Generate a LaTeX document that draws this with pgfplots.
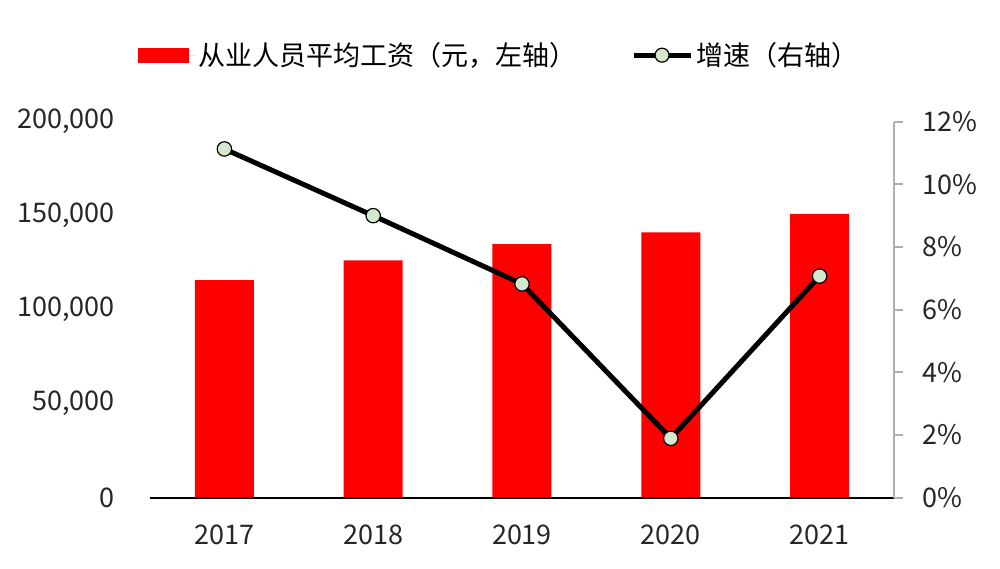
\documentclass[border=0pt]{standalone}
\usepackage{pgfplots}
\pgfplotsset{compat=1.18}
\usepackage{fontspec}
\setmainfont{Noto Sans CJK SC}
\definecolor{mk}{RGB}{212,232,206}
\definecolor{tk}{RGB}{38,38,38}
\definecolor{gax}{RGB}{175,175,175}
\begin{document}
\begin{tikzpicture}
\path[use as bounding box] (-75pt,-35.25pt) rectangle (425pt,248.75pt);
\begin{axis}[
  at={(0,0)}, anchor=south west, scale only axis,
  width=372pt, height=187.9pt,
  xmin=-0.5, xmax=4.5, ymin=0, ymax=200000,
  xtick={0,1,2,3,4}, xticklabels={2017,2018,2019,2020,2021},
  ytick={0,50000,100000,150000,200000},
  yticklabels={0,{50,000},{100,000},{150,000},{200,000}},
  scaled y ticks=false,
  axis x line*=bottom, axis y line*=left,
  x axis line style={black, line width=1pt, -},
  y axis line style={draw=none},
  xtick style={draw=none}, ytick style={draw=none},
  tick label style={font=\fontsize{13.5}{16}\selectfont, text=tk},
  yticklabel style={xshift=-14pt},
  xticklabel style={yshift=-10pt},
  legend style={at={(0.47,1.177)}, anchor=center, draw=none, fill=none,
    font=\fontsize{13.5}{16}\selectfont, text=black,
    legend columns=2, nodes={inner xsep=1.5pt},
    /tikz/every even column/.append style={column sep=26pt}},
]
\addplot[ybar, bar width=29.5pt, fill=red, draw=none,
  legend image code/.code={\fill[red] (0pt,-3.8pt) rectangle (25.5pt,3.8pt); \path (0pt,0pt) -- (28.5pt,0pt);}]
  coordinates {(0,115700) (1,126200) (2,134900) (3,141100) (4,150900)};
\addlegendentry{从业人员平均工资（元，左轴）}
\addlegendimage{legend image code/.code={\draw[black, line width=2.5pt] (0pt,0pt) -- (28.5pt,0pt); \draw[fill=mk, draw=black, line width=0.6pt] (14.2pt,0pt) circle (3.5pt);}}
\addlegendentry{增速（右轴）}
\end{axis}
\begin{axis}[
  at={(0,0)}, anchor=south west, scale only axis,
  width=372pt, height=187.9pt,
  xmin=-0.5, xmax=4.5, ymin=0, ymax=12,
  ytick={0,2,4,6,8,10,12},
  yticklabels={0\%,2\%,4\%,6\%,8\%,10\%,12\%},
  axis x line=none, axis y line*=right,
  y axis line style={draw=gax, line width=1pt, -},
  ytick style={draw=gax, line width=1pt},
  tick align=outside, major tick length=4.5pt,
  tick label style={font=\fontsize{13.5}{16}\selectfont, text=tk},
  yticklabel style={xshift=6pt},
]
\addplot[black, line width=2.5pt, mark=*, mark size=3.6pt,
  mark options={fill=mk, draw=black, line width=0.6pt}]
  coordinates {(0,11.13) (1,9.0) (2,6.82) (3,1.89) (4,7.07)};
\end{axis}
\end{tikzpicture}
\end{document}
